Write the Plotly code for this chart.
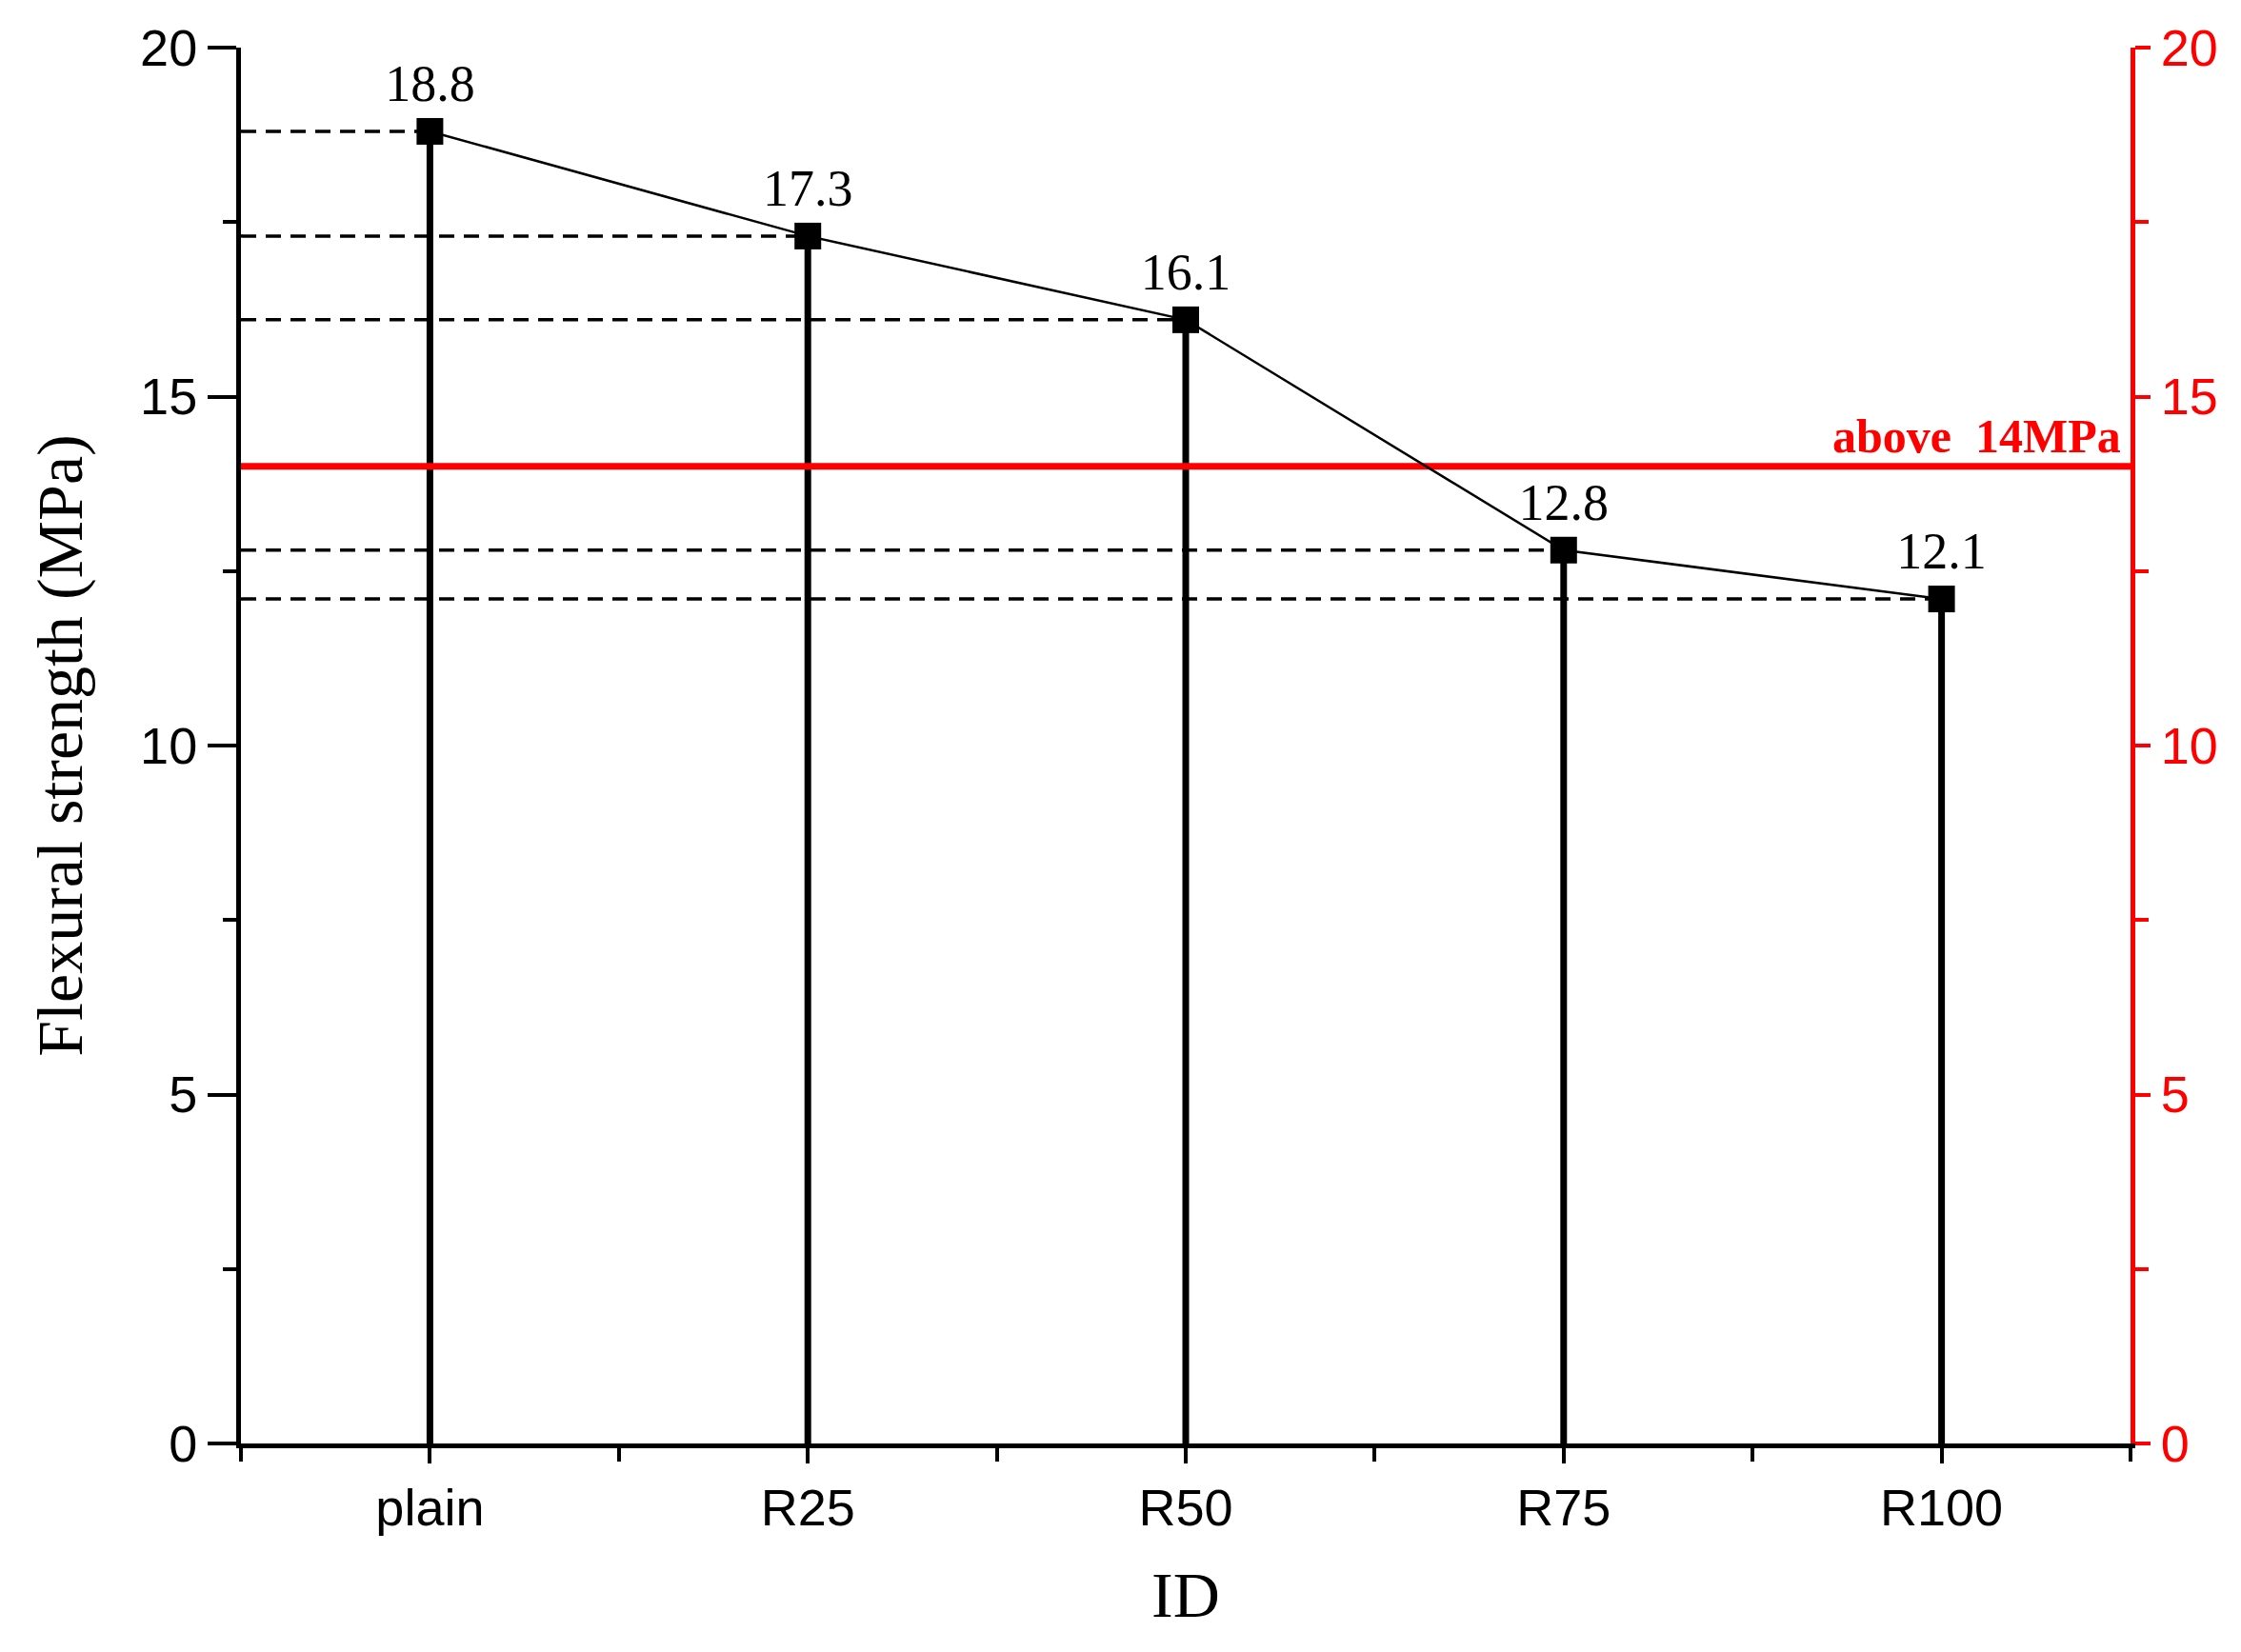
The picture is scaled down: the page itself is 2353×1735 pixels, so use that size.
import plotly.graph_objects as go

ids = ["plain", "R25", "R50", "R75", "R100"]
strength = [18.8, 17.3, 16.1, 12.8, 12.1]
threshold = 14
label_txt = "above  14MPa"

xs = list(range(len(ids)))
serif = "Liberation Serif"
sans = "Liberation Sans"

fig = go.Figure()

# stems from 0 up to each value
sx, sy = [], []
for x, v in zip(xs, strength):
    sx += [x, x, None]
    sy += [0, v, None]
fig.add_trace(go.Scatter(x=sx, y=sy, mode="lines", line=dict(color="black", width=7),
                         showlegend=False, hoverinfo="skip"))

# dashed guides from left axis
dx, dy = [], []
for x, v in zip(xs, strength):
    dx += [-0.5, x, None]
    dy += [v, v, None]
fig.add_trace(go.Scatter(x=dx, y=dy, mode="lines",
                         line=dict(color="black", width=3.5, dash="16px,10px"),
                         showlegend=False, hoverinfo="skip"))

# threshold line
fig.add_trace(go.Scatter(x=[-0.5, 4.5], y=[threshold, threshold], mode="lines",
                         line=dict(color="red", width=7), showlegend=False))

# main line with markers and labels
fig.add_trace(go.Scatter(x=xs, y=strength, mode="lines+markers+text",
                         line=dict(color="black", width=2.5),
                         marker=dict(symbol="square", size=28, color="black"),
                         text=[f"{v:.1f}" for v in strength], textposition="top center",
                         textfont=dict(family=serif, size=54, color="black"),
                         showlegend=False))

# invisible trace for right axis
fig.add_trace(go.Scatter(x=[0], y=[0], yaxis="y2", mode="markers",
                         marker=dict(opacity=0), showlegend=False, hoverinfo="skip"))

fig.add_annotation(x=4.48, y=threshold, text=label_txt, showarrow=False,
                   xanchor="right", yanchor="bottom", yshift=2,
                   font=dict(family=serif, size=50, color="red", weight="bold"))

fig.update_layout(
    width=2353, height=1735,
    margin=dict(l=245, r=124, t=42, b=227),
    plot_bgcolor="white", paper_bgcolor="white",
    xaxis=dict(range=[-0.5, 4.5], tickvals=xs, ticktext=ids, showgrid=False, zeroline=False,
               showline=True, linecolor="black", linewidth=5, ticks="outside", ticklen=16,
               tickwidth=4, tickcolor="black",
               minor=dict(tick0=0.5, dtick=1, ticks="outside", ticklen=14, tickwidth=4, tickcolor="black"),
               tickfont=dict(family=sans, size=54, color="black"),
               title=dict(text="ID", font=dict(family=serif, size=68, color="black"), standoff=40)),
    yaxis=dict(range=[0, 20], dtick=5, showgrid=False, zeroline=False,
               showline=True, linecolor="black", linewidth=5, ticks="outside", ticklen=30,
               tickwidth=4, tickcolor="black",
               minor=dict(dtick=2.5, ticks="outside", ticklen=14, tickwidth=4, tickcolor="black"),
               tickfont=dict(family=sans, size=54, color="black"),
               title=dict(text="Flexural strength (MPa)", font=dict(family=serif, size=68, color="black"),
                          standoff=40)),
    yaxis2=dict(range=[0, 20], dtick=5, overlaying="y", side="right", showgrid=False, zeroline=False,
                showline=True, linecolor="red", linewidth=5, ticks="outside", ticklen=16,
                tickwidth=4, tickcolor="red",
                minor=dict(dtick=2.5, ticks="outside", ticklen=14, tickwidth=4, tickcolor="red"),
                tickfont=dict(family=sans, size=54, color="red")),
)

fig.write_html("out.html")
